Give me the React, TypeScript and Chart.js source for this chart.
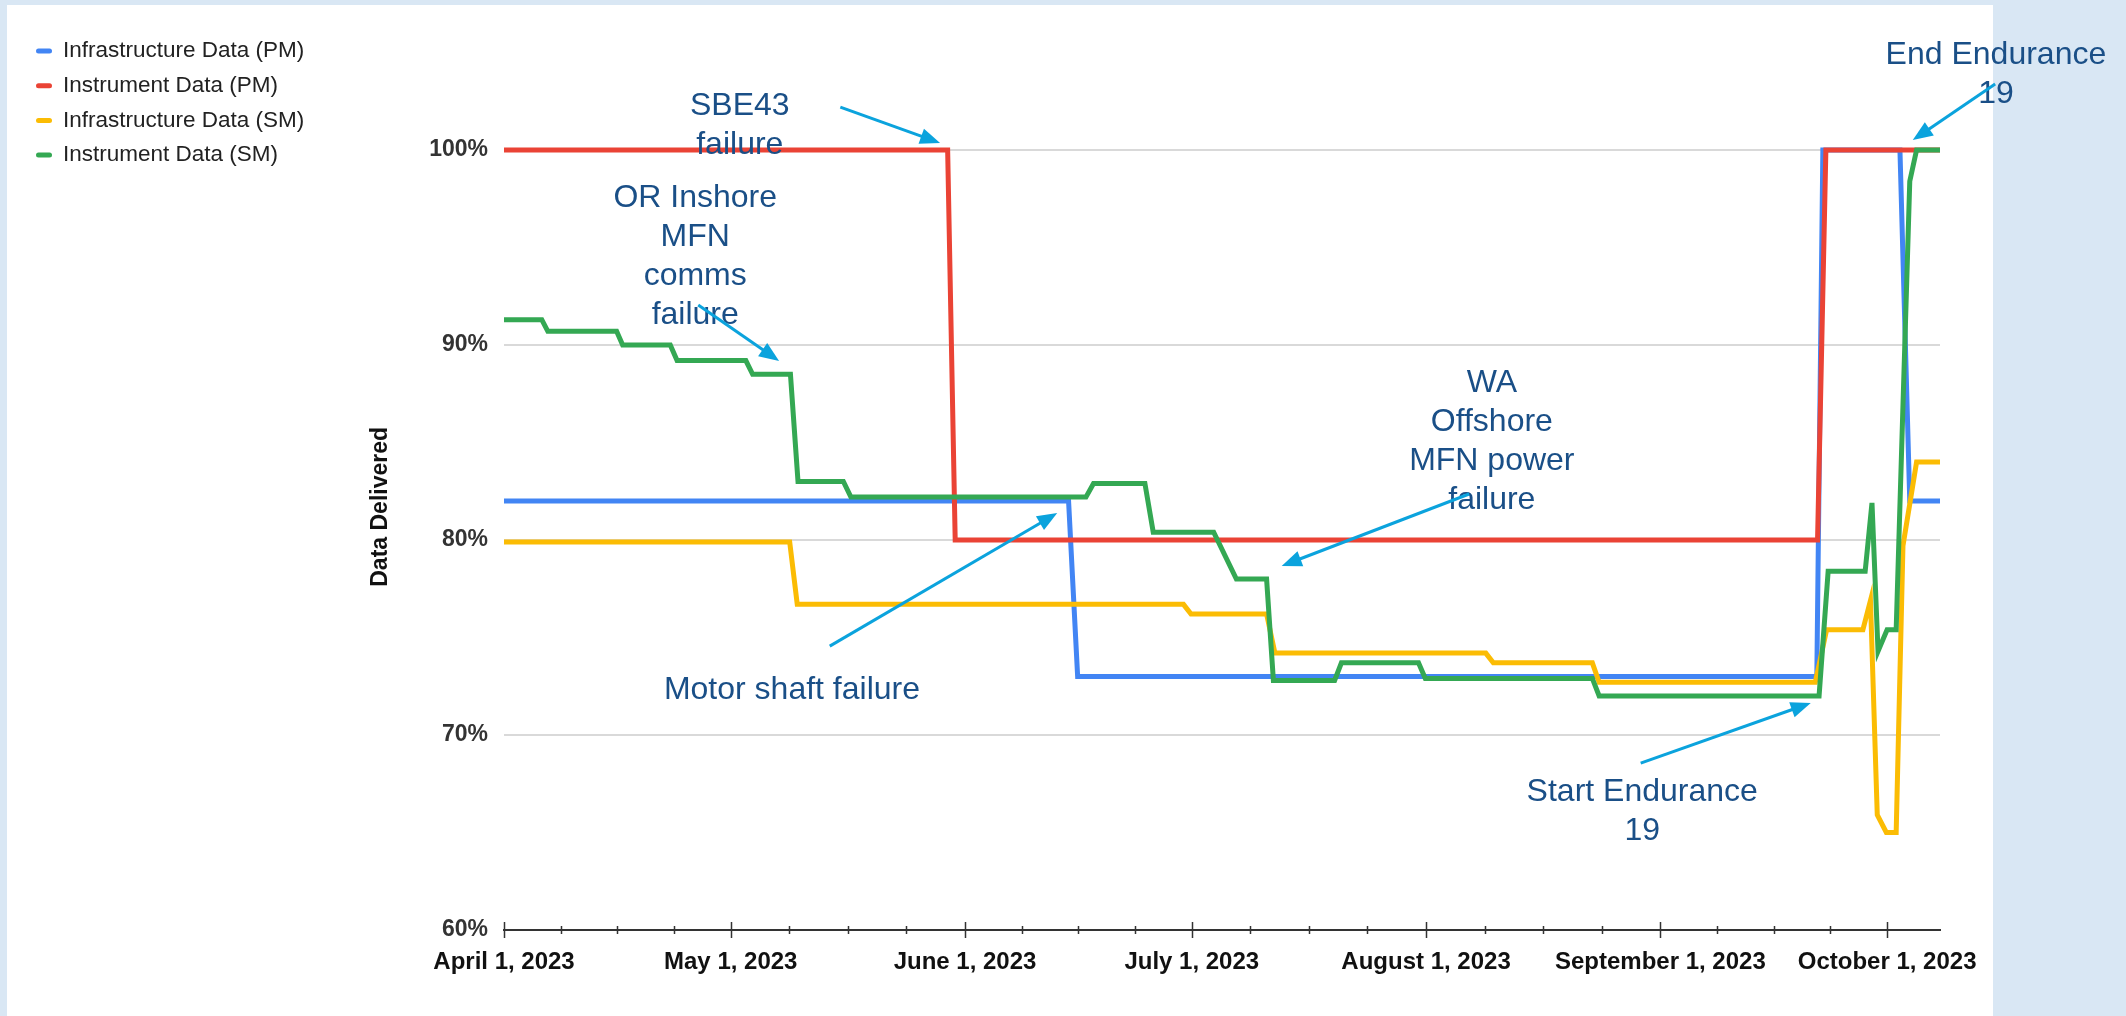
import React, { useEffect, useRef } from 'react';
import { Chart, registerables } from 'chart.js';

Chart.register(...registerables);

const CANVAS_W = 2126;
const CANVAS_H = 1016;
const FONT = "'Liberation Sans', Arial, sans-serif";

// ---- x axis (days since April 1, 2023) ----
const tickDays = [0, 30, 61, 91, 122, 153, 183];
const monthLengths = [30, 31, 30, 31, 31, 30, 31];
const tickLabels = [
  'April 1, 2023',
  'May 1, 2023',
  'June 1, 2023',
  'July 1, 2023',
  'August 1, 2023',
  'September 1, 2023',
  'October 1, 2023',
];
const xMax = 190;

// ---- y axis ----
const yTicks = [60, 70, 80, 90, 100];
const yTitle = 'Data Delivered';

// ---- series ----
const seriesNames = [
  'Infrastructure Data (PM)',
  'Instrument Data (PM)',
  'Infrastructure Data (SM)',
  'Instrument Data (SM)',
];
const seriesColors = ['#4285f4', '#ea4335', '#fbbc04', '#34a853'];

const infraPmDays = [0, 74.7, 75.9, 173.7, 174.5, 184.7, 186.0, 190];
const infraPmValues = [82.0, 82.0, 73.0, 73.0, 100, 100, 82.0, 82.0];

const instrPmDays = [0, 58.7, 59.7, 173.8, 174.9, 190];
const instrPmValues = [100, 100, 80, 80, 100, 100];

const infraSmDays = [0, 37.8, 38.8, 89.9, 90.9, 100.9, 102.0, 129.9, 130.9, 144.0, 144.9, 173.5, 175.0, 179.8, 180.8, 181.7, 182.9, 184.2, 185.1, 186.9, 190];
const infraSmValues = [79.9, 79.9, 76.7, 76.7, 76.2, 76.2, 74.2, 74.2, 73.7, 73.7, 72.7, 72.7, 75.4, 75.4, 76.9, 65.9, 65.0, 65.0, 79.7, 84.0, 84.0];

const instrSmDays = [0, 5.0, 5.8, 14.9, 15.7, 22.0, 22.9, 32.0, 32.9, 37.9, 38.9, 44.9, 45.9, 77.0, 78.0, 84.8, 85.9, 93.9, 96.9, 100.9, 101.8, 109.9, 110.8, 121.0, 121.9, 144.0, 144.9, 174.0, 175.2, 180.1, 181.0, 181.8, 183.0, 184.2, 186.0, 186.9, 190];
const instrSmValues = [91.3, 91.3, 90.7, 90.7, 90.0, 90.0, 89.2, 89.2, 88.5, 88.5, 83.0, 83.0, 82.2, 82.2, 82.9, 82.9, 80.4, 80.4, 78.0, 78.0, 72.8, 72.8, 73.7, 73.7, 72.9, 72.9, 72.0, 72.0, 78.4, 78.4, 81.9, 74.3, 75.4, 75.4, 98.4, 100, 100];

const seriesDays = [infraPmDays, instrPmDays, infraSmDays, instrSmDays];
const seriesValues = [infraPmValues, instrPmValues, infraSmValues, instrSmValues];
// draw order: blue at bottom, green on top
const seriesOrder = [4, 3, 2, 1];

// ---- annotations (anchored in data coordinates: [day, percent]) ----
const notes = [
  { lines: ['SBE43', 'failure'], at: [31.2, 102.26], from: [44.5, 102.2], to: [57.7, 100.36] },
  { lines: ['OR Inshore', 'MFN', 'comms', 'failure'], at: [25.3, 97.54], from: [25.7, 92.05], to: [36.4, 89.18] },
  { lines: ['WA', 'Offshore', 'MFN power', 'failure'], at: [130.7, 88.05], from: [127.7, 82.36], to: [102.9, 78.67] },
  { lines: ['Motor shaft failure'], at: [38.1, 72.31], from: [43.1, 74.56], to: [73.2, 81.38] },
  { lines: ['Start Endurance', '19'], at: [150.6, 67.08], from: [150.4, 68.56], to: [172.9, 71.64] },
  { lines: ['End Endurance', '19'], at: [197.4, 104.87], from: [197.3, 103.38], to: [186.4, 100.51] },
];

const backgroundPlugin = {
  id: 'pageBackground',
  beforeDraw(chart: any) {
    const ctx = chart.ctx;
    ctx.save();
    ctx.fillStyle = '#d9e7f4';
    ctx.fillRect(0, 0, CANVAS_W, CANVAS_H);
    ctx.fillStyle = '#ffffff';
    ctx.fillRect(7, 5, 1986, CANVAS_H - 5);
    ctx.restore();
  },
};

const tickMarksPlugin = {
  id: 'xTickMarks',
  afterDraw(chart: any) {
    const ctx = chart.ctx;
    const xs = chart.scales.x;
    const y = chart.chartArea.bottom;
    ctx.save();
    ctx.strokeStyle = '#333';
    ctx.lineWidth = 1.5;
    tickDays.forEach((d, i) => {
      const px = Math.round(xs.getPixelForValue(d)) + 0.5;
      ctx.beginPath();
      ctx.moveTo(px, y - 8);
      ctx.lineTo(px, y + 8);
      ctx.stroke();
      for (let k = 1; k <= 3; k++) {
        const v = d + (monthLengths[i] * k) / 4;
        if (v > xMax) continue;
        const mx = Math.round(xs.getPixelForValue(v)) + 0.5;
        ctx.beginPath();
        ctx.moveTo(mx, y - 4);
        ctx.lineTo(mx, y + 4);
        ctx.stroke();
      }
    });
    ctx.restore();
  },
};

const yTitlePlugin = {
  id: 'yTitle',
  afterDraw(chart: any) {
    const ctx = chart.ctx;
    const ys = chart.scales.y;
    ctx.save();
    // title sits slightly above the vertical centre of the plot, left of the tick labels
    ctx.translate(381, ys.getPixelForValue(81.7));
    ctx.rotate(-Math.PI / 2);
    ctx.font = `bold 23px ${FONT}`;
    ctx.fillStyle = '#111';
    ctx.textAlign = 'center';
    ctx.textBaseline = 'middle';
    ctx.fillText(yTitle, 0, 0);
    ctx.restore();
  },
};

function drawArrow(ctx: CanvasRenderingContext2D, x1: number, y1: number, x2: number, y2: number) {
  const ang = Math.atan2(y2 - y1, x2 - x1);
  const headLen = 20;
  const headW = 8;
  const c = Math.cos(ang);
  const s = Math.sin(ang);
  const bx = x2 - headLen * c;
  const by = y2 - headLen * s;
  ctx.beginPath();
  ctx.moveTo(x1, y1);
  ctx.lineTo(bx + 2 * c, by + 2 * s);
  ctx.stroke();
  ctx.beginPath();
  ctx.moveTo(x2, y2);
  ctx.lineTo(bx + headW * s, by - headW * c);
  ctx.lineTo(bx - headW * s, by + headW * c);
  ctx.closePath();
  ctx.fill();
}

const annotationPlugin = {
  id: 'notes',
  afterDatasetsDraw(chart: any) {
    const ctx = chart.ctx;
    const xs = chart.scales.x;
    const ys = chart.scales.y;
    ctx.save();
    ctx.font = `32px ${FONT}`;
    ctx.textAlign = 'center';
    ctx.textBaseline = 'middle';
    notes.forEach((n) => {
      ctx.fillStyle = '#1a4f87';
      const cx = xs.getPixelForValue(n.at[0]);
      const cy = ys.getPixelForValue(n.at[1]);
      n.lines.forEach((line, i) => ctx.fillText(line, cx, cy + i * 39));
      ctx.strokeStyle = '#0ba3dd';
      ctx.fillStyle = '#0ba3dd';
      ctx.lineWidth = 3;
      drawArrow(
        ctx,
        xs.getPixelForValue(n.from[0]),
        ys.getPixelForValue(n.from[1]),
        xs.getPixelForValue(n.to[0]),
        ys.getPixelForValue(n.to[1])
      );
    });
    ctx.restore();
  },
};

const legendPlugin = {
  id: 'sideLegend',
  afterDraw(chart: any) {
    const ctx = chart.ctx;
    ctx.save();
    ctx.textBaseline = 'middle';
    ctx.textAlign = 'left';
    ctx.font = `22.5px ${FONT}`;
    seriesNames.forEach((name, i) => {
      const y = 51 + i * 34.7;
      ctx.strokeStyle = seriesColors[i];
      ctx.lineWidth = 5;
      ctx.lineCap = 'round';
      ctx.beginPath();
      ctx.moveTo(38.5, y);
      ctx.lineTo(49.5, y);
      ctx.stroke();
      ctx.fillStyle = '#222';
      ctx.fillText(name, 63, y);
    });
    ctx.restore();
  },
};

export default function App() {
  const canvasRef = useRef<HTMLCanvasElement | null>(null);

  useEffect(() => {
    document.body.style.margin = '0';
    document.body.style.overflow = 'hidden';
    const canvas = canvasRef.current;
    if (!canvas) return;
    Chart.defaults.font.family = FONT;

    const datasets = seriesNames.map((name, i) => ({
      label: name,
      data: seriesDays[i].map((d, j) => ({ x: d, y: seriesValues[i][j] })),
      borderColor: seriesColors[i],
      backgroundColor: seriesColors[i],
      borderWidth: 5,
      pointRadius: 0,
      tension: 0,
      fill: false,
      clip: false as any,
      order: seriesOrder[i],
    }));

    const chart = new Chart(canvas, {
      type: 'line',
      data: { datasets },
      options: {
        responsive: false,
        animation: false,
        devicePixelRatio: 1,
        layout: { padding: { left: 362, right: 186, top: 150, bottom: 0 } },
        plugins: {
          legend: { display: false },
          tooltip: { enabled: false },
        },
        scales: {
          x: {
            type: 'linear',
            min: 0,
            max: xMax,
            afterBuildTicks: (scale: any) => {
              scale.ticks = tickDays.map((v) => ({ value: v }));
            },
            afterFit: (scale: any) => {
              scale.height = 86;
            },
            grid: { display: false, drawTicks: false },
            border: { display: true, color: '#333', width: 2 },
            ticks: {
              autoSkip: false,
              maxRotation: 0,
              minRotation: 0,
              padding: 18,
              color: '#111',
              font: { size: 24, weight: 'bold' },
              callback: (value: any) => {
                const i = tickDays.indexOf(Number(value));
                return i >= 0 ? tickLabels[i] : '';
              },
            },
          },
          y: {
            type: 'linear',
            min: yTicks[0],
            max: yTicks[yTicks.length - 1],
            afterBuildTicks: (scale: any) => {
              scale.ticks = yTicks.map((v) => ({ value: v }));
            },
            afterFit: (scale: any) => {
              scale.width = 142;
            },
            grid: {
              drawTicks: false,
              lineWidth: 2,
              color: (c: any) => (c.tick && c.tick.value === yTicks[0] ? 'rgba(0,0,0,0)' : '#d9d9d9'),
            },
            border: { display: false },
            ticks: {
              padding: 16,
              color: '#333',
              font: { size: 23, weight: 'bold' },
              callback: (v: any) => `${v}%`,
            },
            title: { display: false },
          },
        },
      } as any,
      plugins: [backgroundPlugin, tickMarksPlugin, annotationPlugin, legendPlugin, yTitlePlugin],
    });

    return () => {
      chart.destroy();
    };
  }, []);

  return (
    <canvas
      ref={canvasRef}
      width={CANVAS_W}
      height={CANVAS_H}
      style={{ display: 'block', width: CANVAS_W, height: CANVAS_H }}
    />
  );
}
